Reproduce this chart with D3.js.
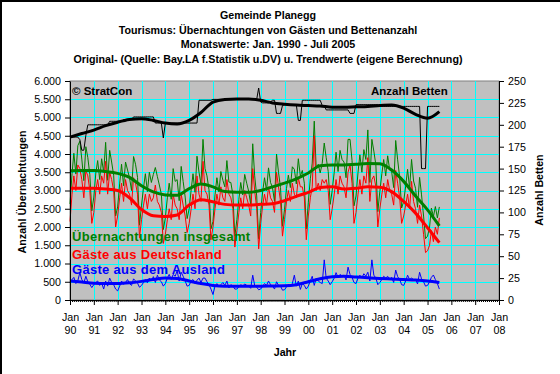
<!DOCTYPE html>
<html>
<head>
<meta charset="utf-8">
<script src="https://cdn.jsdelivr.net/npm/d3@7"></script>
<style>
  body { margin: 0; background: #fff; }
  svg { display: block; font-family: "Liberation Sans", Arial, sans-serif; }
</style>
</head>
<body>
<svg id="chart" width="560" height="374"></svg>
<script>
// monthly values from Jan 1990 on, one row per year
const gesamt = [
  2630, 3460, 4020, 3450, 4230, 4350, 3860, 3270, 4200, 3900, 3430, 2440, // 1990
  2820, 3480, 3820, 3300, 3870, 3500, 4320, 3280, 4100, 3780, 3420, 2300, // 1991
  2550, 3180, 3720, 3130, 3780, 3560, 3350, 3000, 3930, 3720, 3360, 2050, // 1992
  2600, 3080, 3460, 2970, 3500, 3220, 3440, 3630, 3380, 3150, 2900, 1930, // 1993
  2250, 2800, 3200, 2760, 3600, 3250, 3300, 2720, 3660, 3250, 2820, 2230, // 1994
  2500, 3020, 3460, 2950, 3940, 3500, 3180, 4400, 3600, 3400, 3020, 1950, // 1995
  2150, 2880, 3350, 2960, 3520, 3280, 3100, 3820, 3230, 3220, 2880, 1750, // 1996
  2200, 2760, 3220, 2880, 3440, 3200, 2980, 2620, 4280, 3400, 2850, 1680, // 1997
  2400, 2980, 3350, 3000, 3620, 3220, 3080, 2700, 4000, 3500, 3080, 2020, // 1998
  2480, 3060, 3420, 3080, 3650, 3580, 3180, 3870, 3390, 3550, 3200, 1950, // 1999
  2680, 3320, 3750, 4900, 3600, 3720, 3480, 3750, 4300, 3900, 3520, 2620, // 2000
  3000, 3500, 4050, 3520, 4100, 3850, 3780, 3350, 4400, 4400, 3820, 2580, // 2001
  2850, 3500, 3980, 3500, 4120, 3850, 4660, 3220, 4400, 4080, 3700, 2420, // 2002
  2980, 3460, 3850, 3400, 3950, 3560, 3520, 3080, 4370, 3840, 3360, 2520, // 2003
  2700, 3120, 3580, 3060, 3850, 3260, 3060, 2540, 3360, 2880, 2300, 1680, // 2004
  1750, 2000, 2520, 2285, 2560, 2250, 2550                                // 2005
];
const deutschland = [
  2150, 2900, 3400, 3000, 3700, 3600, 3300, 2800, 3550, 3400, 3000, 2100,
  2400, 3000, 3300, 2900, 3400, 3200, 3800, 2900, 3500, 3300, 3000, 2000,
  2300, 2800, 3200, 2700, 3300, 3000, 2900, 2600, 3350, 3200, 2900, 1700,
  2200, 2600, 2900, 2500, 2900, 2700, 2800, 3150, 2700, 2600, 2400, 1550,
  1800, 2200, 2500, 2200, 2900, 2600, 2500, 2200, 2900, 2600, 2300, 1850,
  2100, 2500, 2900, 2500, 3400, 2900, 2700, 3800, 3000, 2900, 2600, 1650,
  2000, 2500, 2900, 2600, 3100, 2800, 2700, 3300, 2900, 2800, 2500, 1450,
  1900, 2400, 2800, 2500, 3000, 2800, 2600, 2300, 3600, 3000, 2500, 1400,
  2100, 2600, 2900, 2600, 3100, 2800, 2700, 2400, 3500, 3100, 2700, 1750,
  2200, 2700, 3000, 2700, 3200, 2900, 2800, 3350, 3100, 3100, 2800, 1650,
  2300, 2800, 3100, 4500, 3000, 3200, 3000, 3300, 3200, 3300, 3000, 2200,
  2500, 2900, 3300, 2900, 3400, 3200, 3100, 2800, 3500, 3700, 3200, 2100,
  2400, 2900, 3300, 2900, 3400, 3200, 3900, 2700, 3300, 3400, 3100, 2000,
  2500, 2900, 3200, 2800, 3300, 3000, 2900, 2600, 3550, 3200, 2800, 2100,
  2300, 2600, 2900, 2500, 3250, 2700, 2500, 2100, 2600, 2300, 1800, 1300,
  1350, 1500, 1900, 1600, 2000, 1800, 2250
];
const ausland = [
  480, 560, 620, 450, 530, 750, 560, 470, 650, 500, 430, 340,
  420, 480, 520, 400, 470, 300, 520, 380, 600, 480, 420, 300,
  250, 380, 520, 430, 480, 560, 450, 400, 580, 520, 460, 350,
  400, 480, 560, 470, 600, 520, 640, 480, 680, 550, 500, 380,
  450, 600, 700, 560, 700, 650, 800, 520, 760, 650, 520, 380,
  400, 520, 560, 450, 540, 600, 480, 600, 600, 500, 420, 300,
  150, 380, 450, 360, 420, 480, 400, 520, 330, 420, 380, 300,
  300, 360, 420, 380, 440, 400, 380, 320, 680, 400, 350, 280,
  300, 380, 450, 400, 520, 420, 380, 300, 500, 400, 380, 270,
  280, 360, 420, 380, 450, 680, 380, 520, 290, 450, 400, 300,
  380, 520, 650, 400, 600, 520, 480, 450, 1100, 600, 520, 420,
  500, 600, 750, 620, 700, 650, 680, 550, 900, 700, 620, 480,
  450, 600, 680, 600, 720, 650, 760, 520, 1100, 680, 600, 420,
  480, 560, 650, 600, 650, 560, 620, 480, 820, 640, 560, 420,
  400, 520, 680, 560, 600, 560, 560, 440, 760, 580, 500, 380,
  400, 500, 620, 685, 560, 450, 300
];
const betten = [
  186, 186, 186, 186, 186, 183, 171, 171, 188, 200, 200, 200,
  200, 200, 200, 200, 200, 200, 200, 200, 204, 204, 204, 204,
  204, 204, 204, 206, 206, 206, 206, 206, 209, 209, 209, 209,
  209, 209, 209, 209, 209, 209, 209, 202, 202, 202, 202, 185,
  202, 202, 202, 202, 202, 202, 202, 202, 202, 202, 202, 202,
  202, 202, 202, 202, 202, 228, 228, 228, 228, 228, 228, 228,
  229, 229, 229, 229, 229, 229, 229, 229, 229, 229, 229, 229,
  229, 229, 229, 229, 229, 229, 229, 229, 229, 229, 229, 242,
  226, 225, 225, 225, 225, 226, 228, 228, 213, 213, 213, 222,
  223, 223, 223, 223, 223, 223, 223, 205, 205, 228, 228, 228,
  228, 228, 228, 228, 228, 228, 228, 222, 222, 217, 217, 217,
  217, 217, 217, 217, 217, 217, 217, 217, 217, 213, 213, 213,
  223, 223, 223, 223, 223, 223, 223, 223, 223, 223, 223, 223,
  221, 221, 221, 221, 221, 221, 221, 221, 221, 221, 221, 221,
  221, 221, 221, 221, 221, 221, 221, 221, 221, 150, 150, 150,
  221, 221, 221, 221, 221, 221, 221
];

// trend values (eigene Berechnung), read every half year
const trendYears = [1990, 1990.5, 1991, 1991.5, 1992, 1992.5, 1993, 1993.5, 1994, 1994.5,
  1995, 1995.5, 1996, 1996.5, 1997, 1997.5, 1998, 1998.5, 1999, 1999.5,
  2000, 2000.5, 2001, 2001.5, 2002, 2002.5, 2003, 2003.5, 2004, 2004.5, 2005, 2005.5];
const trendGesamt = [3540, 3545, 3545, 3520, 3470, 3360, 3130, 2960, 2880, 2870,
  3050, 3180, 3100, 2970, 2950, 2950, 3000, 3100, 3200, 3320,
  3480, 3680, 3700, 3700, 3720, 3740, 3730, 3560, 3250, 2850, 2470, 2030];
const trendDeutschland = [3060, 3060, 3060, 3040, 3000, 2800, 2480, 2310, 2290, 2330,
  2600, 2750, 2690, 2620, 2600, 2600, 2620, 2640, 2720, 2840,
  2950, 3080, 3100, 3040, 3060, 3100, 3090, 2970, 2700, 2380, 1980, 1570];
const trendAusland = [520, 490, 460, 450, 450, 470, 510, 560, 600, 590,
  520, 450, 400, 380, 380, 380, 380, 385, 390, 420,
  500, 580, 640, 650, 630, 610, 590, 575, 560, 545, 520, 480];
const trendBetten = [186, 190, 194, 199, 203, 206, 207, 205, 202, 201,
  205, 214, 226, 229, 229.5, 229.5, 228, 225, 223.5, 222.5,
  222, 221.5, 220, 220, 220.5, 221, 222, 222.5, 219, 212, 207.5, 215];

const leftTicks = [0, 500, 1000, 1500, 2000, 2500, 3000, 3500, 4000, 4500, 5000, 5500, 6000];
const rightTicks = [0, 25, 50, 75, 100, 125, 150, 175, 200, 225, 250];
const tickYears = [1990, 1991, 1992, 1993, 1994, 1995, 1996, 1997, 1998, 1999,
  2000, 2001, 2002, 2003, 2004, 2005, 2006, 2007, 2008];
const tickYearLabels = ["90", "91", "92", "93", "94", "95", "96", "97", "98", "99",
  "00", "01", "02", "03", "04", "05", "06", "07", "08"];

const titles = [
  "Gemeinde Planegg",
  "Tourismus: Übernachtungen von Gästen und Bettenanzahl",
  "Monatswerte: Jan. 1990 - Juli 2005",
  "Original- (Quelle: Bay.LA f.Statistik u.DV) u. Trendwerte (eigene Berechnung)"
];

const svg = d3.select("#chart");
const plotLeft = 70, plotRight = 499, plotTop = 81, plotBottom = 300;

const x = d3.scaleUtc()
  .domain([Date.UTC(1990, 0, 1), Date.UTC(2008, 0, 1)])
  .range([plotLeft, plotRight]);
const yL = d3.scaleLinear().domain([0, 6000]).range([plotBottom, plotTop]);
const yR = d3.scaleLinear().domain([0, 250]).range([plotBottom, plotTop]);

const monthDate = i => new Date(Date.UTC(1990, i, 1));
const yearDate = t => new Date(Date.UTC(Math.floor(t), Math.round((t % 1) * 12), 1));

const de = d3.formatLocale({decimal: ",", thousands: ".", grouping: [3], currency: ["", " €"]});
const fmt = de.format(",");

// outer frame
svg.append("path").attr("d", "M1,374V1H560").attr("fill", "none")
  .attr("stroke", "#000").attr("stroke-width", 2);

// titles
svg.append("g").selectAll("text").data(titles).join("text")
  .attr("x", 268).attr("y", (d, i) => 19 + i * 14.7)
  .attr("text-anchor", "middle")
  .attr("font-size", "10.7px").attr("font-weight", "bold")
  .text(d => d);

// plot area
svg.append("rect").attr("x", plotLeft).attr("y", plotTop)
  .attr("width", plotRight - plotLeft).attr("height", plotBottom - plotTop)
  .attr("fill", "#c0c0c0").attr("stroke", "#808080");

const grid = svg.append("g").attr("stroke", "#00ffff").attr("stroke-width", 1);
grid.selectAll("line.h").data(leftTicks.slice(1, -1)).join("line")
  .attr("x1", plotLeft).attr("x2", plotRight)
  .attr("y1", d => Math.round(yL(d)) + 0.5).attr("y2", d => Math.round(yL(d)) + 0.5);
grid.selectAll("line.v").data(tickYears.slice(1, -1)).join("line")
  .attr("y1", plotTop).attr("y2", plotBottom)
  .attr("x1", d => Math.round(x(Date.UTC(d, 0, 1))) + 0.5)
  .attr("x2", d => Math.round(x(Date.UTC(d, 0, 1))) + 0.5);

// monthly lines
const lineL = d3.line().x((d, i) => x(monthDate(i))).y(d => yL(d));
const lineR = d3.line().x((d, i) => x(monthDate(i))).y(d => yR(d));
const series = [
  {data: gesamt, color: "#008000"},
  {data: deutschland, color: "#ff0000"},
  {data: ausland, color: "#0000ff"}
];
series.forEach(s => {
  svg.append("path").datum(s.data).attr("d", lineL)
    .attr("fill", "none").attr("stroke", s.color).attr("stroke-width", 1);
});
svg.append("path").datum(betten).attr("d", lineR)
  .attr("fill", "none").attr("stroke", "#000").attr("stroke-width", 1);

// trend lines
const trendL = d3.line().curve(d3.curveMonotoneX)
  .x((d, i) => x(yearDate(trendYears[i]))).y(d => yL(d));
const trendR = d3.line().curve(d3.curveMonotoneX)
  .x((d, i) => x(yearDate(trendYears[i]))).y(d => yR(d));
[
  {data: trendGesamt, color: "#008000"},
  {data: trendDeutschland, color: "#ff0000"},
  {data: trendAusland, color: "#0000ff"}
].forEach(s => {
  svg.append("path").datum(s.data).attr("d", trendL)
    .attr("fill", "none").attr("stroke", s.color).attr("stroke-width", 3);
});
svg.append("path").datum(trendBetten).attr("d", trendR)
  .attr("fill", "none").attr("stroke", "#000").attr("stroke-width", 3);

// axes
const styleAxis = g => {
  g.selectAll("path.domain").attr("stroke", "#000");
  g.selectAll(".tick line").attr("stroke", "#000");
  g.selectAll("text").attr("fill", "#000").attr("font-size", "10.7px")
    .attr("font-family", "'Liberation Sans', Arial, sans-serif");
};
svg.append("g").attr("transform", `translate(${plotLeft},0)`)
  .call(d3.axisLeft(yL).tickValues(leftTicks).tickFormat(fmt).tickSize(5).tickPadding(4).tickSizeOuter(0))
  .call(styleAxis);
svg.append("g").attr("transform", `translate(${plotRight},0)`)
  .call(d3.axisRight(yR).tickValues(rightTicks).tickSize(5).tickPadding(4).tickSizeOuter(0))
  .call(styleAxis);

// month ticks, then year ticks with two-line labels
svg.append("g").attr("transform", `translate(0,${plotBottom})`)
  .call(d3.axisBottom(x).ticks(d3.utcMonth.every(1)).tickSize(2).tickFormat("").tickSizeOuter(0))
  .call(styleAxis);
const xAxis = svg.append("g").attr("transform", `translate(0,${plotBottom})`)
  .call(d3.axisBottom(x).tickValues(tickYears.map(d => new Date(Date.UTC(d, 0, 1))))
    .tickSize(5).tickSizeOuter(0).tickFormat(""))
  .call(styleAxis);
xAxis.selectAll(".tick").each(function(d, i) {
  const t = d3.select(this).append("text").attr("fill", "#000").attr("font-size", "10.7px")
    .attr("text-anchor", "middle");
  t.append("tspan").attr("x", 0).attr("y", 20.5).text("Jan");
  t.append("tspan").attr("x", 0).attr("y", 34).text(tickYearLabels[i]);
});

// axis titles
svg.append("text").attr("transform", "translate(26,192) rotate(-90)")
  .attr("text-anchor", "middle").attr("font-size", "10.7px").attr("font-weight", "bold")
  .text("Anzahl Übernachtungen");
svg.append("text").attr("transform", "translate(543,190) rotate(-90)")
  .attr("text-anchor", "middle").attr("font-size", "10.7px").attr("font-weight", "bold")
  .text("Anzahl Betten");
svg.append("text").attr("x", 285).attr("y", 356)
  .attr("text-anchor", "middle").attr("font-size", "10.7px").attr("font-weight", "bold")
  .text("Jahr");

// labels inside the plot
const labels = [
  {text: "© StratCon", x: 72, y: 95, color: "#000", size: 11.5, spacing: 0},
  {text: "Anzahl Betten", x: 371, y: 95, color: "#000", size: 11.5, spacing: 0},
  {text: "Übernachtungen insgesamt", x: 72, y: 240.5, color: "#008000", size: 13, spacing: 0.3},
  {text: "Gäste aus Deutschland", x: 72, y: 258.5, color: "#ff0000", size: 13, spacing: 0.3},
  {text: "Gäste aus dem Ausland", x: 72, y: 274, color: "#0000ff", size: 13, spacing: 0.3}
];
svg.append("g").selectAll("text").data(labels).join("text")
  .attr("x", d => d.x).attr("y", d => d.y)
  .attr("fill", d => d.color).attr("font-size", d => d.size + "px").attr("font-weight", "bold")
  .attr("letter-spacing", d => d.spacing)
  .text(d => d.text);
</script>
</body>
</html>
